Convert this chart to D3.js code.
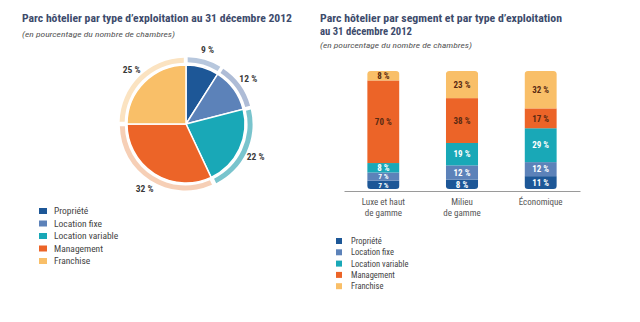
<!DOCTYPE html>
<html><head><meta charset="utf-8">
<script src="https://cdn.jsdelivr.net/npm/d3@7"></script>
<style>
body{margin:0;background:#fff;}
svg{display:block;}
text{font-family:"Liberation Sans Narrow","Arial Narrow","Roboto Condensed",sans-serif;}
</style></head><body>
<svg id="c" width="640" height="322"></svg>
<script>
const types = ["Propriété","Location fixe","Location variable","Management","Franchise"];
const colors = ["#1d5797","#5c82b9","#19a8b7","#ec6428","#f9bf68"];
const ringColors = ["#b7c7dd","#aebcd6","#79c4cd","#f6cfb6","#fbe3c1"];
const pieValues = [9,12,22,32,25];
const segments = ["Luxe et haut de gamme","Milieu de gamme","Économique"];
const segmentLines = [["Luxe et haut","de gamme"],["Milieu","de gamme"],["Économique"]];
const proprieteVals = [7,8,11];
const fixeVals = [7,12,12];
const variableVals = [8,19,29];
const managementVals = [70,38,17];
const franchiseVals = [8,23,32];

const svg = d3.select("#c");
const titleColor = "#3d4b6c";

// Titles
svg.append("text").attr("x",22).attr("y",22).attr("font-size",11).attr("font-weight","bold")
  .attr("fill",titleColor).attr("textLength",270).attr("lengthAdjust","spacingAndGlyphs")
  .text("Parc hôtelier par type d’exploitation au 31 décembre 2012");
svg.append("text").attr("x",22).attr("y",37).attr("font-size",8).attr("font-style","italic")
  .attr("fill","#555").attr("textLength",153).attr("lengthAdjust","spacingAndGlyphs")
  .text("(en pourcentage du nombre de chambres)");
svg.append("text").attr("x",320).attr("y",22).attr("font-size",11).attr("font-weight","bold")
  .attr("fill",titleColor).attr("textLength",242).attr("lengthAdjust","spacingAndGlyphs")
  .text("Parc hôtelier par segment et par type d’exploitation");
svg.append("text").attr("x",320).attr("y",34.5).attr("font-size",11).attr("font-weight","bold")
  .attr("fill",titleColor).attr("textLength",92).attr("lengthAdjust","spacingAndGlyphs")
  .text("au 31 décembre 2012");
svg.append("text").attr("x",320).attr("y",48).attr("font-size",8).attr("font-style","italic")
  .attr("fill","#555").attr("textLength",152).attr("lengthAdjust","spacingAndGlyphs")
  .text("(en pourcentage du nombre de chambres)");

// Pie
const cx = 186, cy = 124, R = 59;
const pieData = d3.pie().sort(null).value(d=>d.v)(pieValues.map((v,i)=>({v,i})));
const gp = svg.append("g").attr("transform",`translate(${cx},${cy})`);
const ringArc = d3.arc().innerRadius(R+1.5).outerRadius(R+6.5).padAngle(0.03);
gp.selectAll("path.ring").data(pieData).join("path").attr("class","ring")
  .attr("d",ringArc).attr("fill",d=>ringColors[d.data.i])
  .attr("transform",d=>{const a=(d.startAngle+d.endAngle)/2;return `translate(${Math.sin(a)*1.2},${-Math.cos(a)*1.2})`;});
const arc = d3.arc().innerRadius(0).outerRadius(R);
gp.selectAll("path.slice").data(pieData).join("path").attr("class","slice")
  .attr("d",arc).attr("fill",d=>colors[d.data.i]).attr("stroke","#fff").attr("stroke-width",1.5);
const labelArc = d3.arc().innerRadius(77).outerRadius(77);
gp.selectAll("text.pl").data(pieData).join("text").attr("class","pl")
  .attr("transform",d=>`translate(${labelArc.centroid(d)})`)
  .attr("text-anchor","middle").attr("dy","0.35em").attr("font-size",9.5).attr("font-weight","bold")
  .attr("fill","#3a3a3a").text(d=>d.data.v+" %");

// Legends
function legend(x,y,step,sw,sh,fs,tx){
  const g = svg.append("g");
  types.forEach((t,i)=>{
    g.append("rect").attr("x",x).attr("y",y+i*step-sh/2).attr("width",sw).attr("height",sh).attr("fill",colors[i]);
    g.append("text").attr("x",x+tx).attr("y",y+i*step).attr("dy","0.35em").attr("font-size",fs).attr("fill","#444").text(t);
  });
}
legend(39,211,12.5,8,6,9.5,15);
legend(336,241,11.3,6,6,8.5,15);

// Stacked bars
const rows = segments.map((s,i)=>({seg:s, "Propriété":proprieteVals[i], "Location fixe":fixeVals[i],
  "Location variable":variableVals[i], "Management":managementVals[i], "Franchise":franchiseVals[i]}));
const stack = d3.stack().keys(types).offset(d3.stackOffsetExpand)(rows);
const x = d3.scaleBand().domain(segments).range([344,580]).paddingInner(0.59).paddingOuter(0.295);
const y = d3.scaleLinear().domain([0,1]).range([189,71]);

const defs = svg.append("defs");
segments.forEach((s,i)=>{
  defs.append("clipPath").attr("id","clip"+i).append("rect")
    .attr("x",x(s)).attr("y",y(1)).attr("width",x.bandwidth()).attr("height",y(0)-y(1)).attr("rx",3.5);
});
const gb = svg.append("g");
stack.forEach((layer,li)=>{
  layer.forEach((d,si)=>{
    gb.append("rect").attr("clip-path",`url(#clip${si})`)
      .attr("x",x(segments[si])).attr("y",y(d[1])).attr("width",x.bandwidth()).attr("height",y(d[0])-y(d[1]))
      .attr("fill",colors[li]);
    const v = d.data[types[li]];
    const h = y(d[0])-y(d[1]);
    gb.append("text").attr("x",x(segments[si])+x.bandwidth()/2).attr("y",(y(d[0])+y(d[1]))/2)
      .attr("dy","0.36em").attr("text-anchor","middle").attr("font-size",h<9?7.5:9).attr("font-weight","bold")
      .attr("fill", li>=3 ? "#5a2a12" : "#fff").text(v+" %");
  });
});
const ax = svg.append("g").attr("transform","translate(0,191)")
  .call(d3.axisBottom(x).tickSize(0).tickSizeOuter(0).tickFormat(""));
ax.select(".domain").attr("stroke","#9a9a9a").attr("stroke-width",1);
segments.forEach((s,i)=>{
  segmentLines[i].forEach((l,j)=>{
    svg.append("text").attr("x",x(s)+x.bandwidth()/2).attr("y",205+j*11).attr("text-anchor","middle")
      .attr("font-size",9).attr("fill","#555").text(l);
  });
});
</script></body></html>
